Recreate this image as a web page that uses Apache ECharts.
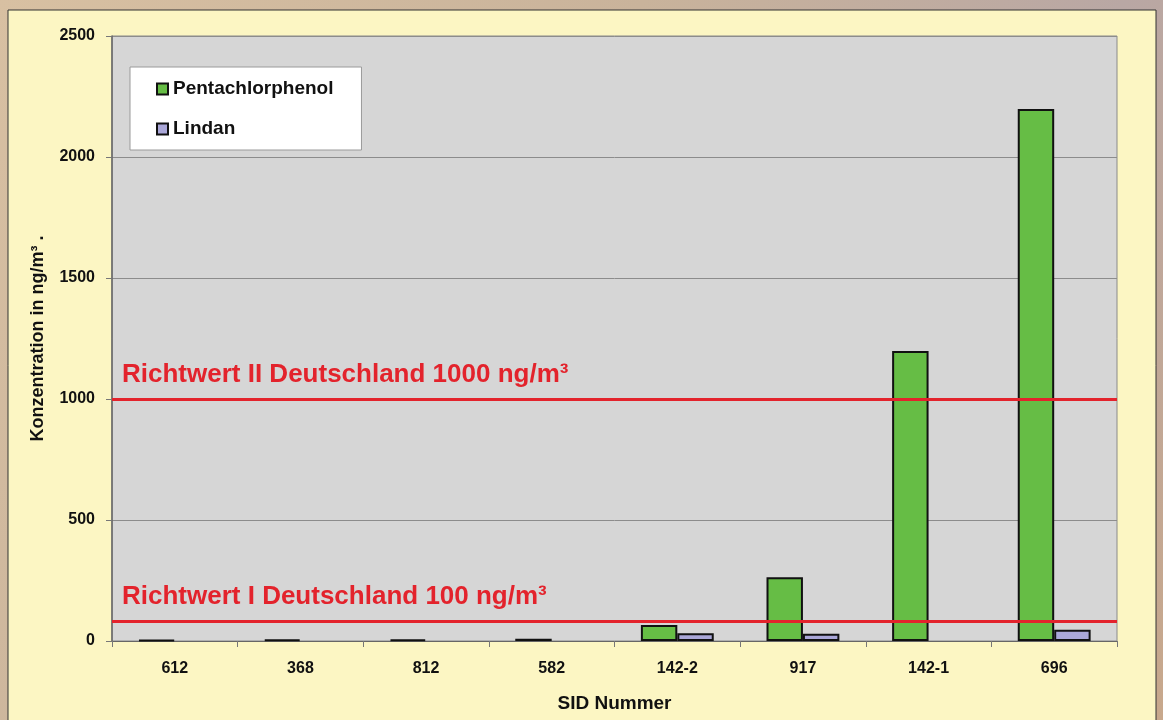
<!DOCTYPE html>
<html>
<head>
    <meta charset="utf-8">
    <title>SID Konzentration</title>
    <script src="https://cdn.jsdelivr.net/npm/echarts@6/dist/echarts.min.js"></script>
    <style>
        html, body { margin: 0; padding: 0; }
        #chart { width: 1163px; height: 720px; }
    </style>
</head>
<body>
<div id="chart"></div>
<script>
    // Daten
    var categories = ['612', '368', '812', '582', '142-2', '917', '142-1', '696'];
    var pcpValues = [5, 6, 7, 9, 66, 263, 1198, 2198];
    var lindanValues = [null, null, null, null, 32, 30, null, 47];
    var seriesNames = ['Pentachlorphenol', 'Lindan'];
    var yTicks = [0, 500, 1000, 1500, 2000, 2500];
    var limitValues = [1000, 83];
    var limitLabels = ['Richtwert II Deutschland 1000 ng/m³', 'Richtwert I Deutschland 100 ng/m³'];

    var chart = echarts.init(document.getElementById('chart'));

    var boldFont = { fontFamily: 'Liberation Sans, Arial, sans-serif', fontWeight: 'bold', color: '#111' };

    var option = {
        backgroundColor: {
            type: 'linear', x: 0, y: 0, x2: 1, y2: 1,
            colorStops: [
                { offset: 0, color: '#d8c0a2' },
                { offset: 0.4, color: '#c9b39b' },
                { offset: 0.7, color: '#b9a7a4' },
                { offset: 1, color: '#c8a88c' }
            ]
        },
        animation: false,
        graphic: [{
            type: 'rect',
            z: -10,
            shape: { x: 8, y: 10, width: 1148, height: 720 },
            style: { fill: '#fcf6c3', stroke: '#333', lineWidth: 1 }
        }],
        legend: {
            orient: 'vertical',
            left: 130,
            top: 67,
            data: seriesNames,
            icon: 'rect',
            itemWidth: 11,
            itemHeight: 11,
            itemGap: 20,
            padding: [12, 28, 11, 26],
            backgroundColor: '#fff',
            borderColor: '#9a9a9a',
            borderWidth: 1,
            textStyle: Object.assign({ fontSize: 19, lineHeight: 20 }, boldFont)
        },
        grid: {
            left: 112,
            right: 46,
            top: 36,
            bottom: 79,
            show: true,
            backgroundColor: '#d6d6d6',
            borderColor: '#8a8a8a',
            borderWidth: 1
        },
        xAxis: {
            type: 'category',
            data: categories,
            name: 'SID Nummer',
            nameLocation: 'middle',
            nameGap: 53,
            nameTextStyle: Object.assign({ fontSize: 19 }, boldFont),
            axisLine: { lineStyle: { color: '#666', width: 1 } },
            axisTick: { show: true, length: 6, lineStyle: { color: '#777' } },
            axisLabel: Object.assign({ fontSize: 16, margin: 20 }, boldFont)
        },
        yAxis: {
            type: 'value',
            min: yTicks[0],
            max: yTicks[yTicks.length - 1],
            interval: 500,
            name: 'Konzentration in ng/m³ .',
            nameLocation: 'middle',
            nameGap: 65,
            nameTextStyle: Object.assign({ fontSize: 18 }, boldFont),
            axisLine: { show: true, lineStyle: { color: '#666', width: 1.5 } },
            axisTick: { show: true, length: 6, lineStyle: { color: '#777' } },
            axisLabel: Object.assign({
                fontSize: 16,
                margin: 17,
                formatter: function (v) { return String(v); }
            }, boldFont),
            splitLine: { lineStyle: { color: '#8c8c8c', width: 1 } }
        },
        series: [
            {
                name: seriesNames[0],
                type: 'bar',
                data: pcpValues,
                barGap: '0%',
                barCategoryGap: '42%',
                itemStyle: { color: '#66bd45', borderColor: '#111', borderWidth: 2 },
                markLine: {
                    silent: true,
                    symbol: 'none',
                    lineStyle: { color: '#e3232c', width: 3, type: 'solid' },
                    label: {
                        position: 'insideStartTop',
                        distance: [10, 11],
                        color: '#e3232c',
                        fontSize: 26,
                        fontWeight: 'bold',
                        fontFamily: 'Liberation Sans, Arial, sans-serif',
                        formatter: function (p) { return limitLabels[p.dataIndex]; }
                    },
                    data: limitValues.map(function (v) { return { yAxis: v }; })
                },
                z: 2
            },
            {
                name: seriesNames[1],
                type: 'bar',
                data: lindanValues,
                itemStyle: { color: '#aaa7d8', borderColor: '#111', borderWidth: 2 }
            }
        ]
    };

    chart.setOption(option);
</script>
</body>
</html>
